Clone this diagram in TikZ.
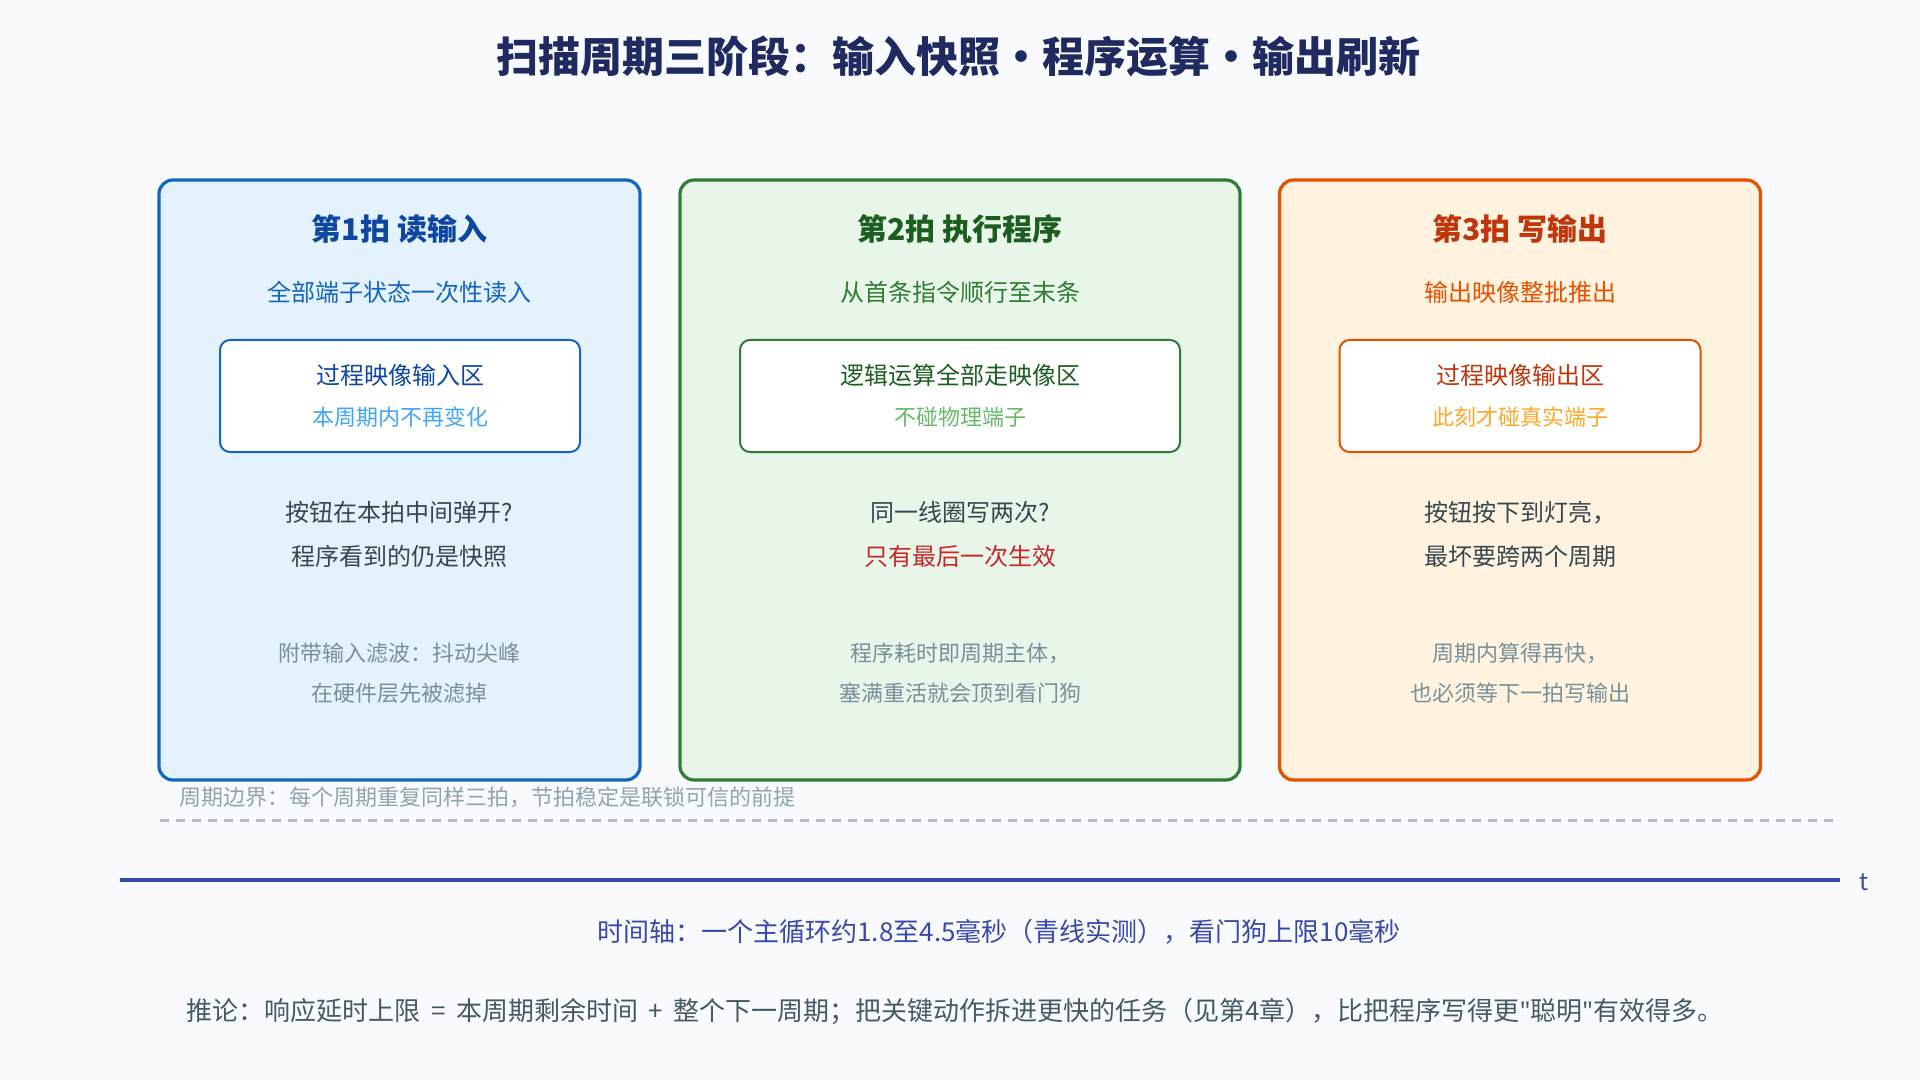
\documentclass[tikz,border=0pt]{standalone}
\usepackage{fontspec}
\setmainfont{Noto Sans CJK SC}
\newfontfamily\quotefont{Noto Sans}
\definecolor{bg}{HTML}{F8FAFD}
\definecolor{titleblue}{HTML}{1F2A60}
\definecolor{bluedark}{HTML}{0D47A1}
\definecolor{blue}{HTML}{1565C0}
\definecolor{bluelight}{HTML}{42A5F5}
\definecolor{bluefill}{HTML}{E3F2FD}
\definecolor{greendark}{HTML}{1B5E20}
\definecolor{green}{HTML}{2E7D32}
\definecolor{greenlight}{HTML}{66BB6A}
\definecolor{greenfill}{HTML}{E8F5E9}
\definecolor{orangedark}{HTML}{BF360C}
\definecolor{orange}{HTML}{E65100}
\definecolor{orangelight}{HTML}{FFA726}
\definecolor{orangefill}{HTML}{FFF3E0}
\definecolor{bodygray}{HTML}{37474F}
\definecolor{warnred}{HTML}{C62828}
\definecolor{hintgray}{HTML}{78909C}
\definecolor{edgegray}{HTML}{90A4AE}
\definecolor{dashgray}{HTML}{B0BEC5}
\definecolor{axisblue}{HTML}{3949AB}
\definecolor{concl}{HTML}{455A64}
\begin{document}
\begin{tikzpicture}[
    x=0.5pt, y=-0.5pt,
    beatcard/.style={draw=#1, line width=1.6pt, rounded corners=7pt, minimum height=300pt, inner sep=0pt},
    imgbox/.style={draw=#1, line width=1pt, rounded corners=5pt, fill=white, minimum height=56pt,
      align=center, font=\fontsize{12}{20.5}\selectfont},
    beathead/.style={font=\fontsize{15}{18}\selectfont\bfseries},
    beatsub/.style={font=\fontsize{12}{15}\selectfont},
    beatnote/.style={align=center, font=\fontsize{12}{22}\selectfont, text=bodygray},
    beathint/.style={align=center, font=\fontsize{11}{20}\selectfont, text=hintgray},
    axisline/.style={draw=axisblue, line width=2pt},
    cycleedge/.style={draw=dashgray, line width=1.5pt, dash pattern=on 4.5pt off 3.5pt}
  ]
  \useasboundingbox[fill=bg] (0,0) rectangle (1920,1080);

  \node[font=\fontsize{21}{25}\selectfont\bfseries, text=titleblue] (title) at (958,57)
    {扫描周期三阶段：输入快照・程序运算・输出刷新};

  % beat 1
  \node[beatcard=blue, fill=bluefill, minimum width=240.5pt] (read) at (399.5,480) {};
  \node[beathead, text=bluedark] (readhead) at (399.5,229) {第1拍 读输入};
  \node[beatsub, text=blue] (readsub) at (399.5,292) {全部端子状态一次性读入};
  \node[imgbox=blue, minimum width=180pt, text=bluedark] (readimg) at (400,396)
    {过程映像输入区\\\textcolor{bluelight}{\fontsize{11}{20.5}\selectfont 本周期内不再变化}};
  \node[beatnote] (readnote) at (399.5,534) {按钮在本拍中间弹开?\\程序看到的仍是快照};
  \node[beathint] (readhint) at (399.5,673) {附带输入滤波：抖动尖峰\\在硬件层先被滤掉};

  % beat 2
  \node[beatcard=green, fill=greenfill, minimum width=280pt] (exec) at (960,480) {};
  \node[beathead, text=greendark] (exechead) at (960,229) {第2拍 执行程序};
  \node[beatsub, text=green] (execsub) at (960,292) {从首条指令顺行至末条};
  \node[imgbox=green, minimum width=220pt, text=greendark] (execimg) at (960,396)
    {逻辑运算全部走映像区\\\textcolor{greenlight}{\fontsize{11}{20.5}\selectfont 不碰物理端子}};
  \node[beatnote] (execnote) at (960,534) {同一线圈写两次?\\\textcolor{warnred}{只有最后一次生效}};
  \node[beathint] (exechint) at (960,673) {程序耗时即周期主体，\\塞满重活就会顶到看门狗};

  % beat 3
  \node[beatcard=orange, fill=orangefill, minimum width=240.5pt] (write) at (1520,480) {};
  \node[beathead, text=orangedark] (writehead) at (1520,229) {第3拍 写输出};
  \node[beatsub, text=orange] (writesub) at (1520,292) {输出映像整批推出};
  \node[imgbox=orange, minimum width=180.5pt, text=orangedark] (writeimg) at (1520,396)
    {过程映像输出区\\\textcolor{orangelight}{\fontsize{11}{20.5}\selectfont 此刻才碰真实端子}};
  \node[beatnote] (writenote) at (1520,534) {按钮按下到灯亮，\\最坏要跨两个周期};
  \node[beathint] (writehint) at (1520,673) {周期内算得再快，\\也必须等下一拍写输出};

  % cycle boundary and time axis
  \node[anchor=west, font=\fontsize{11}{13}\selectfont, text=edgegray, inner sep=0pt] (edgetext) at (179,797)
    {周期边界：每个周期重复同样三拍，节拍稳定是联锁可信的前提};
  \coordinate (edge0) at (160,820);
  \coordinate (edge1) at (1840,820);
  \draw[cycleedge] (edge0) -- (edge1);

  \coordinate (t0) at (120,880);
  \coordinate (t1) at (1840,880);
  \draw[axisline] (t0) -- (t1);
  \node[font=\fontsize{12}{14}\selectfont, text=axisblue] (tlabel) at (1864,882) {t};

  \node[font=\fontsize{13}{16}\selectfont, text=axisblue] (axisnote) at (999,932)
    {时间轴：一个主循环约1.8至4.5毫秒（青线实测），看门狗上限10毫秒};
  \node[font=\fontsize{13}{16}\selectfont, text=concl] (conclusion) at (955,1011)
    {推论：响应延时上限\hspace{0.4em}=\hspace{0.4em}本周期剩余时间\hspace{0.4em}+\hspace{0.4em}整个下一周期；把关键动作拆进更快的任务（见第4章），比把程序写得更{\quotefont"}聪明{\quotefont"}有效得多。};
\end{tikzpicture}
\end{document}
